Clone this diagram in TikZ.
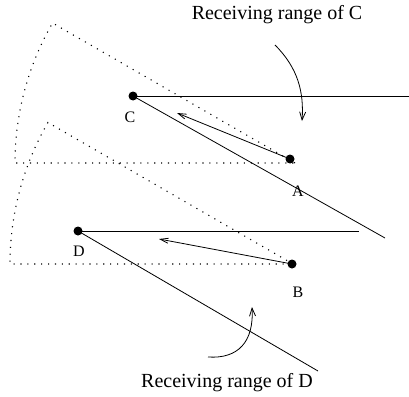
\documentclass[tikz,border=0pt]{standalone}
\usepackage{fontspec}
\setmainfont{Liberation Serif}
\usetikzlibrary{arrows.meta, positioning}
\tikzset{
  nodedot/.style={circle, fill=black, inner sep=0pt, minimum size=9pt},
  ptlabel/.style={inner sep=0pt, font=\fontsize{16}{19}\selectfont},
  rangecap/.style={inner sep=0pt, font=\fontsize{20}{24}\selectfont},
  rangeline/.style={line width=0.8pt},
  sectorline/.style={line width=1.1pt, dash pattern=on 1.1pt off 5.8pt},
  msgarrow/.style={line width=0.8pt, -{Straight Barb[length=8pt, width=5pt]}},
  curvearrow/.style={line width=0.8pt, -{Straight Barb[length=8pt, width=6pt]}},
}
\begin{document}
\begin{tikzpicture}[x=1pt, y=-1pt]
  \useasboundingbox (0,0) rectangle (409,396);

  % receiving sectors (dotted)
  \draw[sectorline] (295,163) -- ++(210:280) arc[start angle=210, end angle=180, radius=280] -- cycle;
  \draw[sectorline] (293,264) -- ++(210:283) arc[start angle=210, end angle=180, radius=283] -- cycle;

  % stations
  \node[nodedot] (C) at (133,96) {};
  \node[nodedot] (A) at (290,159) {};
  \node[nodedot] (D) at (78,231) {};
  \node[nodedot] (B) at (292,264) {};
  \node[ptlabel] (lC) at (130,117) {C};
  \node[ptlabel] (lA) at (298,191) {A};
  \node[ptlabel] (lD) at (79,251) {D};
  \node[ptlabel] (lB) at (298,292) {B};

  % range boundaries of C and D
  \coordinate (cH) at (409,96);
  \coordinate (cS) at (385,238);
  \coordinate (dH) at (359,231);
  \coordinate (dS) at (318,371);
  \draw[rangeline] (C.center) -- (cH);
  \draw[rangeline] (C.center) -- (cS);
  \draw[rangeline] (D.center) -- (dH);
  \draw[rangeline] (D.center) -- (dS);

  % transmissions
  \coordinate (aT) at (177,113);
  \coordinate (bT) at (159,239);
  \draw[msgarrow] (A.center) -- (aT);
  \draw[msgarrow] (B.center) -- (bT);

  % captions
  \node[rangecap] (capC) at (277,15) {Receiving range of C};
  \node[rangecap] (capD) at (227,383) {Receiving range of D};
  \coordinate (cA0) at (275,45);
  \coordinate (cA1) at (302,121);
  \coordinate (dA0) at (208,357);
  \coordinate (dA1) at (252,307);
  \draw[curvearrow] (cA0) .. controls (298,68) and (304,92) .. (cA1);
  \draw[curvearrow] (dA0) .. controls (238,359) and (254,342) .. (dA1);
\end{tikzpicture}
\end{document}
